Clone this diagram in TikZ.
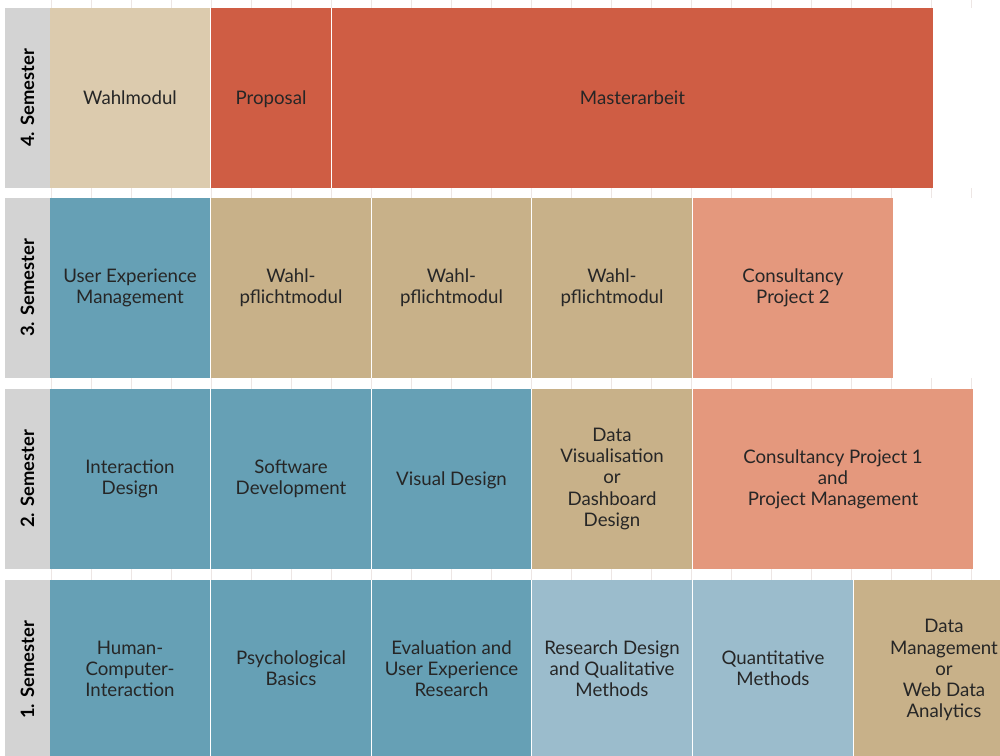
\documentclass[tikz,border=0pt]{standalone}
\usepackage{fontspec}
\setmainfont{Lato}
\definecolor{beigeL}{HTML}{DCCBAE}
\definecolor{redM}{HTML}{CF5D44}
\definecolor{tanM}{HTML}{C8B189}
\definecolor{blueM}{HTML}{66A0B5}
\definecolor{blueL}{HTML}{9BBCCC}
\definecolor{salmon}{HTML}{E4987D}
\definecolor{grayL}{HTML}{D3D3D3}
\definecolor{txt}{HTML}{262626}
\definecolor{gridc}{HTML}{EDE6E4}
\newcommand\mystrut{\rule[-2.4pt]{0pt}{14.9pt}}
\tikzset{
  mod/.style={inner sep=0pt, minimum height=180*0.75pt, text=txt, align=center,
    font=\fontsize{14pt}{15.8pt}\selectfont,
    execute at begin node=\mystrut, execute at end node=\mystrut},
  semlab/.style={inner sep=0pt, minimum width=180*0.75pt, minimum height=45*0.75pt,
    fill=grayL, rotate=90, text=black, font=\fontsize{13.8pt}{15pt}\selectfont\bfseries},
  gridline/.style={draw=gridc, line width=0.6pt}
}
\begin{document}
\begin{tikzpicture}[x=0.75pt,y=-0.75pt]
\useasboundingbox (0,0) rectangle (1000,756);
\clip (0,0) rectangle (1000,756);
% faint grid ticks in the gaps
\foreach \gx in {51,91,...,971} {
  \draw[gridline] (\gx,0) -- (\gx,8);
  \draw[gridline] (\gx,188) -- (\gx,198);
  \draw[gridline] (\gx,378) -- (\gx,389);
  \draw[gridline] (\gx,569) -- (\gx,580);
}
% row 4
\node[semlab] (s4) at (27.5,98) {4. Semester};
\node[mod, fill=beigeL, minimum width=160*0.75pt] (wm) at (130,98) {Wahlmodul};
\node[mod, fill=redM, minimum width=120*0.75pt] (prop) at (271,98) {Proposal};
\node[mod, fill=redM, minimum width=601*0.75pt] (ma) at (632.5,98) {Masterarbeit};
% row 3
\node[semlab] (s3) at (27.5,288) {3. Semester};
\node[mod, fill=blueM, minimum width=160*0.75pt] (uxm) at (130,288) {User Experience\\Management};
\node[mod, fill=tanM, minimum width=160*0.75pt] (wp1) at (291,288) {Wahl-\\pflichtmodul};
\node[mod, fill=tanM, minimum width=159*0.75pt] (wp2) at (451.5,288) {Wahl-\\pflichtmodul};
\node[mod, fill=tanM, minimum width=160*0.75pt] (wp3) at (612,288) {Wahl-\\pflichtmodul};
\node[mod, fill=salmon, minimum width=200*0.75pt] (cp2) at (793,288) {Consultancy\\Project 2};
% row 2
\node[semlab] (s2) at (27.5,479) {2. Semester};
\node[mod, fill=blueM, minimum width=160*0.75pt] (ixd) at (130,479) {Interaction\\Design};
\node[mod, fill=blueM, minimum width=160*0.75pt] (swd) at (291,479) {Software\\Development};
\node[mod, fill=blueM, minimum width=159*0.75pt] (vd) at (451.5,479) {Visual Design};
\node[mod, fill=tanM, minimum width=160*0.75pt] (dv) at (612,479) {Data\\Visualisation\\or\\Dashboard\\Design};
\node[mod, fill=salmon, minimum width=280*0.75pt] (cp1) at (833,479) {Consultancy Project 1\\and\\Project Management};
% row 1
\node[semlab] (s1) at (27.5,670) {1. Semester};
\node[mod, fill=blueM, minimum width=160*0.75pt] (hci) at (130,670) {Human-\\Computer-\\Interaction};
\node[mod, fill=blueM, minimum width=160*0.75pt] (psy) at (291,670) {Psychological\\Basics};
\node[mod, fill=blueM, minimum width=159*0.75pt] (eux) at (451.5,670) {Evaluation and\\User Experience\\Research};
\node[mod, fill=blueL, minimum width=160*0.75pt] (rdq) at (612,670) {Research Design\\and Qualitative\\Methods};
\node[mod, fill=blueL, minimum width=160*0.75pt] (qm) at (773,670) {Quantitative\\Methods};
\node[mod, fill=tanM, minimum width=180*0.75pt] (dm) at (944,670) {Data\\Management\\or\\Web Data\\Analytics};
\end{tikzpicture}
\end{document}
